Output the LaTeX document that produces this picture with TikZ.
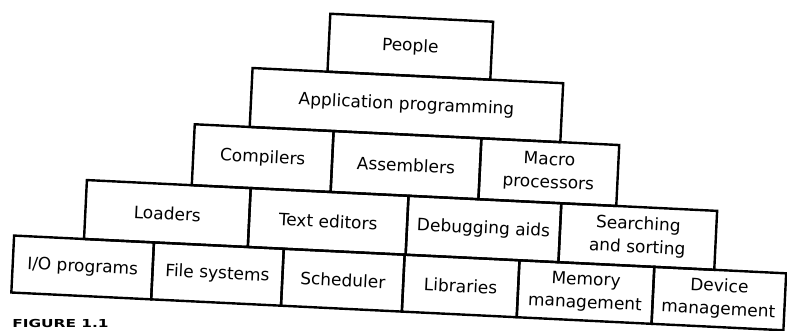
\documentclass[tikz,border=0pt]{standalone}
\usepackage{fontspec}
\setmainfont{DejaVu Sans}
\begin{document}
\begin{tikzpicture}[x=1pt,y=-1pt,
  layer/.style={draw=black, line width=2.4pt, rectangle, inner sep=0pt,
    align=center, transform shape, text=black,
    font=\fontsize{17}{23}\selectfont},
  caption/.style={anchor=base west, inner sep=0pt, text=black,
    xscale=1.4, transform shape,
    font=\bfseries\fontsize{11}{11}\selectfont}
]
\useasboundingbox (0,0) rectangle (787,331);
\fill[white] (0,0) rectangle (787,331);
% the layered pyramid, tilted slightly clockwise
\begin{scope}[shift={(393,165)}, rotate=-2.8]
  % top layer
  \node[layer, minimum width=163pt, minimum height=58pt] (people) at (11.5,-119) {People};
  % second layer
  \node[layer, minimum width=311pt, minimum height=59pt] (app) at (10.5,-60.5) {Application programming};
  % third layer
  \node[layer, minimum width=139pt, minimum height=61pt] (comp) at (-130.5,-0.5) {Compilers};
  \node[layer, minimum width=148pt, minimum height=61pt] (asm) at (13,-0.5) {Assemblers};
  \node[layer, minimum width=138pt, minimum height=61pt] (macro) at (156,-0.5) {Macro\\processors};
  % fourth layer
  \node[layer, minimum width=164pt, minimum height=59pt] (load) at (-223,59.5) {Loaders};
  \node[layer, minimum width=158pt, minimum height=59pt] (edit) at (-62,59.5) {Text editors};
  \node[layer, minimum width=153pt, minimum height=59pt] (debug) at (93.5,59.5) {Debugging aids};
  \node[layer, minimum width=156pt, minimum height=59pt] (sort) at (248,59.5) {Searching\\and sorting};
  % bottom layer
  \node[layer, minimum width=140pt, minimum height=57pt] (io) at (-305,117.5) {I/O programs};
  \node[layer, minimum width=130pt, minimum height=57pt] (fs) at (-170,117.5) {File systems};
  \node[layer, minimum width=121pt, minimum height=57pt] (sched) at (-44.5,117.5) {Scheduler};
  \node[layer, minimum width=115pt, minimum height=57pt] (lib) at (73.5,117.5) {Libraries};
  \node[layer, minimum width=135pt, minimum height=57pt] (mem) at (198.5,117.5) {Memory\\management};
  \node[layer, minimum width=132pt, minimum height=57pt] (dev) at (332,117.5) {Device\\management};
\end{scope}
% caption line along the lower edge
\node[caption] (cap) at (12,327) {FIGURE 1.1};
\end{tikzpicture}
\end{document}
